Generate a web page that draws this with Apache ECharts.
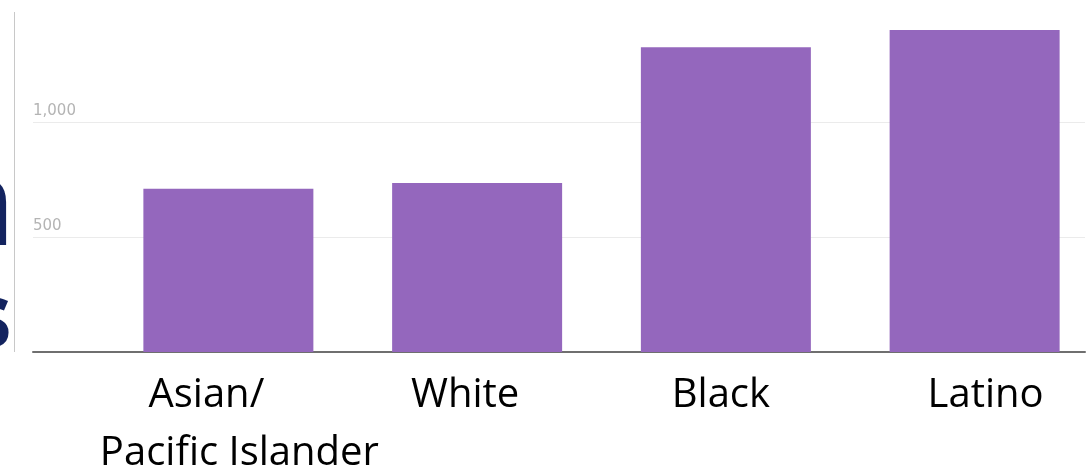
<!DOCTYPE html>
<html>
<head>
<meta charset="utf-8">
<script src="https://cdn.jsdelivr.net/npm/echarts@6/dist/echarts.min.js"></script>
<style>
html,body{margin:0;padding:0;background:#fff;}
#chart{width:1087px;height:469px;}
</style>
</head>
<body>
<div id="chart"></div>
<script>
// ---- data ----
const categories = ['Asian/\nPacific Islander', 'White', 'Black', 'Latino'];
const values = [710, 735, 1325, 1400];
const yMin = 0;
const yMax = 1500;
const yInterval = 500;
const yTickLabels = {500: '500', 1000: '1,000'};
const sideText = ['n', 's'];

// ---- layout / style ----
const labelRich = {
  l0: {padding: [0, 44, 0, 0]},
  l1: {padding: [0, 0, 0, 22]},
  c1: {padding: [0, 24, 0, 0]},
  c2: {padding: [0, 10, 0, 0]},
  c3: {padding: [0, 0, 0, 22]}
};
Object.keys(labelRich).forEach(k => Object.assign(labelRich[k], {
  fontFamily: 'Open Sans', fontSize: 40, lineHeight: 58, color: '#000'
}));

const chart = echarts.init(document.getElementById('chart'), null, {renderer: 'canvas'});
const gridTop = 7, gridBottom = 117;
chart.setOption({
  animation: false,
  backgroundColor: '#fff',
  grid: [
    {left: 33, right: 2, top: gridTop, bottom: gridBottom, containLabel: false, outerBoundsMode: 'none'},
    {left: 104, width: 995, top: gridTop, bottom: gridBottom, containLabel: false, outerBoundsMode: 'none'}
  ],
  xAxis: [
    {gridIndex: 0, type: 'value', min: 0, max: 1,
     axisLine: {show: true, lineStyle: {color: '#6f6f6f', width: 2}},
     axisTick: {show: false}, axisLabel: {show: false}, splitLine: {show: false}},
    {gridIndex: 1, type: 'category', data: categories,
     axisLine: {show: false}, axisTick: {show: false}, splitLine: {show: false},
     axisLabel: {
       interval: 0, margin: 15, verticalAlign: 'top',
       formatter: function (v, i) {
         if (i === 0) {
           return v.split('\n').map((s, j) => '{l' + j + '|' + s + '}').join('\n');
         }
         return '{c' + i + '|' + v + '}';
       },
       rich: labelRich
     }}
  ],
  yAxis: [
    {gridIndex: 0, type: 'value', min: yMin, max: yMax, interval: yInterval,
     axisLine: {show: false}, axisTick: {show: false},
     axisLabel: {
       inside: true, margin: 0, verticalAlign: 'bottom', align: 'left',
       showMinLabel: false, showMaxLabel: false,
       fontFamily: 'DejaVu Sans', fontSize: 15, lineHeight: 15, color: '#b4b4b4',
       padding: [0, 0, 3, 0],
       formatter: v => yTickLabels[v] || ''
     },
     splitLine: {show: true, showMinLine: false, showMaxLine: false,
                 lineStyle: {color: '#ebebeb', width: 1}}},
    {gridIndex: 1, type: 'value', min: yMin, max: yMax, interval: yInterval,
     show: false, splitLine: {show: false}}
  ],
  series: [{
    type: 'bar', xAxisIndex: 1, yAxisIndex: 1,
    data: values, barWidth: 170,
    itemStyle: {color: '#9467bd'}
  }],
  graphic: [
    {type: 'line', shape: {x1: 14.5, y1: 12, x2: 14.5, y2: 352},
     style: {stroke: '#c8c8c8', lineWidth: 1}},
    {type: 'text', x: 15, y: 211,
     style: {text: sideText[0], fontFamily: 'Open Sans', fontWeight: 'bold', fontSize: 120,
             fill: '#13235f', align: 'right', verticalAlign: 'middle'}},
    {type: 'text', x: 12, y: 321,
     style: {text: sideText[1], fontFamily: 'Open Sans', fontWeight: 'bold', fontSize: 90,
             fill: '#13235f', align: 'right', verticalAlign: 'middle'}}
  ]
});
</script>
</body>
</html>
